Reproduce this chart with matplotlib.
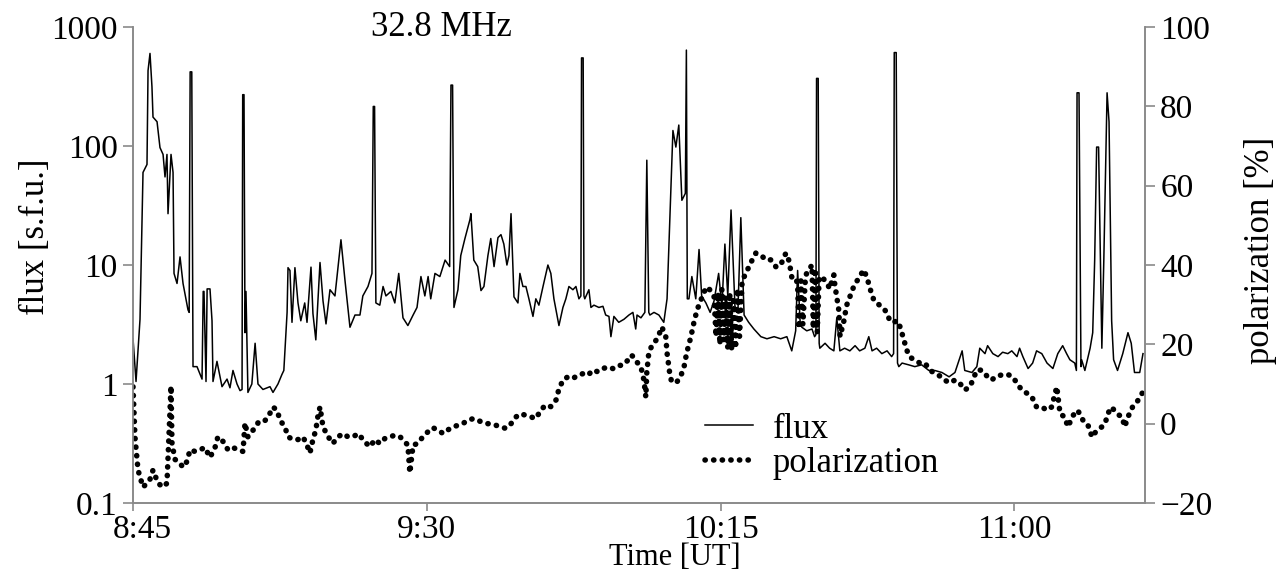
import numpy as np
import matplotlib
matplotlib.use('Agg')
import matplotlib.pyplot as plt
import matplotlib.transforms as mtransforms
from matplotlib.lines import Line2D

plt.rcParams['font.family'] = ['Liberation Serif', 'DejaVu Serif']

# time in minutes after 8:45 UT
flux_t = [0.0, 0.46, 1.07, 1.53, 2.14, 2.3, 2.6, 2.9, 3.06, 3.68, 4.13, 4.6, 4.9, 5.2, 5.36, 5.82,
          6.13, 6.28, 6.74, 7.2, 7.66, 8.42, 8.6, 8.75, 9.0, 9.19, 9.8, 10.57, 10.75, 10.87, 11.18,
          11.35, 11.79, 12.1, 12.25, 12.86, 13.63, 14.4, 14.85, 15.31, 15.93, 16.39, 16.7, 16.8,
          17.0, 17.15, 17.3, 17.6, 18.2, 18.7, 19.14, 19.9, 20.98, 21.44, 22.2, 22.8, 23.1, 23.6,
          23.74, 24.04, 24.35, 24.8, 25.27, 25.7, 26.3, 26.65, 27.26, 27.56, 28.0, 28.64, 29.1,
          29.56, 30.17, 30.93, 31.85, 32.47, 33.23, 34.0, 34.76, 35.2, 35.99, 36.6, 36.8, 37.0,
          37.2, 37.8, 38.3, 38.74, 39.5, 40.1, 40.7, 41.35, 42.1, 42.9, 43.5, 44.1, 44.7, 45.2,
          45.6, 46.25, 47.0, 47.8, 48.5, 48.7, 48.95, 49.16, 49.77, 50.2, 50.84, 51.6, 51.76, 52.2,
          52.8, 53.3, 53.75, 54.36, 54.8, 55.3, 55.9, 56.36, 56.8, 57.27, 57.58, 57.9, 58.35,
          58.96, 59.26, 59.72, 60.18, 60.64, 61.26, 61.7, 62.17, 62.8, 63.55, 64.0, 64.47, 65.24,
          65.85, 66.3, 66.77, 67.38, 67.84, 68.3, 68.6, 68.7, 68.95, 69.07, 69.2, 69.83, 70.14,
          70.6, 71.36, 71.98, 72.4, 72.9, 73.2, 73.66, 74.4, 75.2, 75.96, 76.57, 77.0, 77.2, 77.8,
          78.25, 78.4, 78.7, 79.0, 79.17, 79.8, 80.55, 81.3, 81.8, 82.4, 82.7, 83.15, 83.6, 84.07,
          84.4, 84.6, 84.76, 84.9, 85.15, 85.6, 86.2, 86.7, 87.1, 87.75, 88.4, 89.0, 89.7, 90.2,
          90.66, 91.1, 91.6, 92.2, 92.65, 93.1, 93.6, 94.3, 95.1, 96.17, 97.1, 98.2, 99.2, 100.15,
          100.9, 101.5, 101.8, 102.2, 102.45, 103.2, 104.0, 104.4, 104.6, 104.7, 104.95, 105.1,
          105.2, 106.0, 106.7, 107.35, 107.8, 108.27, 109.0, 109.8, 110.6, 111.3, 112.1, 112.7,
          113.2, 113.9, 114.7, 115.5, 116.2, 116.5, 116.6, 116.9, 117.1, 117.3, 117.8, 118.8,
          119.75, 120.8, 121.9, 122.8, 123.9, 125.0, 125.9, 127.0, 127.4, 128.5, 129.25, 129.7,
          130.5, 130.9, 131.7, 132.5, 133.2, 134.0, 134.6, 135.4, 135.8, 136.3, 137.1, 137.8,
          138.4, 139.2, 140.0, 140.9, 141.65, 142.4, 143.0, 143.5, 144.25, 144.5, 144.6, 144.9,
          145.2, 145.3, 145.8, 146.6, 147.0, 147.3, 147.6, 147.9, 148.4, 148.7, 149.2, 149.5,
          149.9, 150.2, 150.8, 151.6, 152.4, 152.9, 153.4, 154.2, 154.7]
flux_v = [2.4, 1.05, 3.5, 60, 70, 430, 600, 315, 175, 160, 97, 85, 55, 85, 27, 85,
          60, 8.5, 7.0, 11.7, 7.0, 4.2, 4.0, 420, 420, 1.4, 1.4, 1.1, 6.0, 6.0, 1.05,
          6.3, 6.3, 3.4, 1.05, 1.55, 0.95, 1.1, 0.93, 1.3, 1.0, 0.88, 0.9, 270,
          270, 2.7, 6.0, 0.85, 1.0, 2.2, 1.0, 0.9, 0.95, 0.85, 1.0, 1.2, 1.3, 4.0,
          9.5, 9.0, 3.3, 9.5, 4.8, 3.4, 4.8, 3.3, 9.6, 3.9, 2.35, 10.5, 5.0,
          3.2, 6.2, 5.5, 16.3, 7.4, 3.0, 3.8, 3.8, 5.5, 6.6, 8.5, 215, 215,
          4.8, 4.6, 6.6, 5.5, 6.0, 4.8, 8.5, 3.6, 3.1, 3.8, 4.4, 8.0, 5.5, 8.0,
          5.2, 8.5, 8.0, 11.0, 9.7, 325, 325, 4.4, 6.2, 12, 16.7, 24, 27, 11,
          9.7, 6.1, 6.6, 12, 16.7, 9.7, 17, 18, 15, 10, 12, 27, 5.4,
          4.8, 8.5, 6.6, 6.6, 5.2, 3.7, 5.2, 4.6, 6.6, 10, 8.5, 5.2, 3.1,
          4.4, 5.2, 6.6, 6.2, 6.6, 5.2, 5.5, 550, 550, 5.5, 5.2, 6.2, 4.4,
          4.6, 4.4, 4.5, 3.8, 3.7, 2.5, 3.7, 3.3, 3.5, 3.8, 4.0, 2.9, 3.8, 3.6,
          3.9, 4.0, 76, 4.0, 3.8, 4.0, 3.8, 3.3, 5.2, 45, 135, 98, 150, 35,
          38, 40, 640, 5.2, 5.2, 8.0, 5.2, 13.5, 5.5, 4.8, 4.0, 5.0, 8.5, 4.5,
          15, 5.5, 29, 4.5, 4.0, 25, 3.8, 3.3, 2.9, 2.5, 2.4, 2.5, 2.4, 2.5,
          1.9, 2.8, 9.0, 3.2, 3.0, 2.8, 2.9, 2.5, 2.6, 370, 370, 2.2,
          2.0, 2.2, 2.0, 1.9, 3.6, 1.9, 2.0, 1.9, 2.1, 1.9, 2.0, 2.5,
          1.9, 2.0, 1.8, 1.9, 1.7, 1.8, 610, 610, 1.5, 1.4, 1.5, 1.45,
          1.4, 1.45, 1.3, 1.3, 1.25, 1.15, 1.25, 1.9, 1.3, 1.25, 1.4, 2.0,
          1.8, 2.1, 1.8, 1.7, 1.85, 1.8, 1.9, 1.7, 2.0, 1.7, 1.35, 1.5,
          1.9, 1.8, 1.5, 1.35, 1.8, 2.1, 1.8, 1.6, 1.5, 1.3, 280, 280,
          1.4, 1.6, 1.3, 2.0, 2.7, 11, 98, 98, 2.0, 11, 280, 160,
          3.4, 1.6, 1.3, 1.8, 2.7, 2.2, 1.25, 1.25, 1.8]

pol_t = [0.0, 0.3, 0.77, 1.53, 2.14, 2.6, 3.06, 3.83, 4.6, 5.2, 5.5, 5.82, 5.97, 6.43, 7.2, 7.66,
         8.27, 8.73, 9.5, 10.26, 11.0, 11.8, 12.56, 13.0, 13.8, 14.55, 15.3, 16.1, 16.85, 17.15,
         17.6, 18.4, 19.14, 19.9, 20.7, 21.44, 22.05, 22.5, 23.3, 23.74, 24.5, 25.27, 26.0, 26.5,
         27.1, 27.56, 28.0, 28.3, 28.64, 29.1, 29.9, 30.6, 31.4, 32.2, 32.9, 33.7, 34.5, 35.5,
         36.3, 37.06, 37.8, 38.6, 39.4, 40.1, 40.9, 41.65, 42.1, 42.4, 42.9, 43.6, 44.4, 45.2,
         45.9, 46.7, 47.5, 48.2, 49.0, 49.8, 50.5, 51.3, 52.2, 53.3, 54.06, 54.8, 55.6, 56.36,
         57.1, 57.9, 58.65, 59.4, 60.2, 60.95, 61.7, 62.5, 63.2, 64.0, 64.8, 65.2, 65.85, 66.6,
         67.4, 68.1, 68.9, 69.7, 70.4, 71.2, 72.0, 72.7, 73.5, 74.3, 75.0, 75.8, 76.3, 76.7,
         77.2, 77.8, 78.25, 78.55, 78.7, 79.0, 79.5, 80.1, 80.55, 81.0, 81.6, 81.8, 82.2, 82.5,
         83.3, 83.9, 84.4, 84.8, 85.45, 85.9, 86.4, 87.0, 87.4, 87.9, 88.5, 89.0, 89.3, 89.6,
         89.9, 90.2, 90.5, 90.8, 91.1, 91.4, 91.7, 92.0, 92.3, 92.6, 92.9, 93.3, 93.9, 94.6,
         95.4, 96.2, 96.9, 97.7, 98.5, 99.2, 100.0, 100.5, 100.9, 101.5, 101.8, 102.0, 102.3,
         102.6, 103.0, 103.2, 103.6, 104.0, 104.2, 104.5, 104.8, 105.1, 105.5, 106.3, 106.7,
         107.35, 107.5, 108.1, 108.3, 108.9, 109.3, 109.8, 110.4, 110.9, 111.3, 111.9, 112.4,
         112.9, 113.5, 113.9, 114.4, 115.0, 115.5, 115.9, 116.5, 117.0, 117.5, 118.1, 118.5,
         119.0, 119.75, 120.5, 121.3, 122.05, 122.8, 123.6, 124.3, 125.1, 125.9, 126.6, 127.4,
         128.2, 129.25, 130.0, 130.8, 131.5, 132.3, 133.1, 133.8, 134.6, 135.4, 136.1, 136.9,
         137.7, 138.4, 139.2, 140.0, 140.7, 141.5, 142.0, 142.7, 143.2, 144.0, 144.7, 145.5,
         146.2, 146.9, 147.6, 148.4, 148.9, 149.3, 149.9, 150.7, 151.5, 151.9, 152.4, 153.1,
         153.7, 154.2, 154.7]
pol_v = [9.3, -3.4, -11.7, -16, -15, -14, -11.7, -15, -16, -15, -3.4, 9.5, -5, -9, -10, -11,
         -9.5, -6.6, -7, -6.6, -6, -8.5, -6, -3.3, -4.5, -6.6, -6, -6.6, -7, 0.2,
         -3.3, -1.6, 0.2, 0.2, 1.7, 4.2, 3.4, 1, -1, -3.3, -4, -4, -3.3, -4.8,
         -7.4, -4, -1.6, 1.7, 4.2, -0.8, -3.3, -5, -3.3, -2.5, -3.3, -3.3, -2.5, -4.6,
         -5.8, -4, -5, -3.7, -3.3, -2.9, -3.3, -4.6, -5.4, -12.4, -5.4, -5, -3.3, -2,
         -1, -1.6, -2.5, -1.6, -0.8, -0.4, 0, 0.9, 1.3, 0.5, 0, 0, -0.4, -0.8,
         -1.2, 0, 1.7, 2.5, 2.1, 1.7, 1.3, 3.5, 4.7, 4.3, 6, 8.5, 11, 11.8,
         11.4, 12.2, 12.6, 12.2, 13.5, 13.1, 13.9, 14.3, 13.9, 14.7, 14.7, 16, 17.3, 16.8,
         15.5, 14.3, 11, 6.7, 13, 17.8, 19.8, 21, 22.4, 24.4, 22, 17.8, 12.8, 10.5,
         10.5, 12, 14.3, 17.8, 21.9, 25.4, 28.7, 31.2, 33, 34.5, 33.5, 32, 22, 33,
         20, 34, 21, 32, 19, 33, 18.6, 31, 19, 34, 22, 36, 38, 40.5,
         43, 42.5, 41.3, 41.3, 39.5, 40, 43, 41, 37, 37, 35, 24, 36,
         25, 37, 38, 39, 40, 24, 39, 23, 37, 37, 35.5, 34,
         37.5, 35, 28.7, 22, 26, 29.8, 32, 34.6, 36, 37, 38.8, 37,
         34, 31, 30.5, 29.8, 29, 27.9, 26, 25.5, 26, 24.4, 21, 18.6,
         16.8, 16, 15.3, 15.3, 13.5, 12.7, 12, 11, 10.3, 11, 10.3, 8.5,
         9.3, 13.5, 13.5, 12, 11, 12, 12.3, 12.5, 12, 10.3, 8.5, 7.7,
         6.7, 4.2, 4.2, 3.4, 4.2, 9.3, 2.5, 1.7, -0.8, 2.1, 3.4, 0.9,
         0, -3.4, -1.7, -0.8, 0, 2.5, 4.2, 2.5, 1.7, -0.8, 1.7, 4.2,
         5.2, 6.7, 8]

tick_pos = [0, 45, 90, 135]
tick_labels = ['8:45', '9:30', '10:15', '11:00']

fs = 24
dot_style = (0, (0.05, 1.5))

fig = plt.figure(figsize=(12.84, 5.70), dpi=100)
ax = fig.add_axes([0.1036, 0.1175, 0.7881, 0.8351])
ax2 = ax.twinx()

ax.plot(flux_t, flux_v, color='black', lw=1.1)
ax.set_yscale('log')
ax.set_ylim(0.1, 1000)
ax.set_xlim(0, 155)
ax2.plot(pol_t, pol_v, color='black', lw=4, linestyle=dot_style,
         dash_capstyle='round')
ax2.set_ylim(-20, 100)

axcol = '#8a8a8a'
for a in (ax, ax2):
    a.spines['top'].set_visible(False)
    for s in ('left', 'right', 'bottom'):
        a.spines[s].set_color(axcol)
        a.spines[s].set_linewidth(1.2)
    a.tick_params(colors=axcol, labelcolor='black', labelsize=fs, length=7, width=1.2)

ax.set_yticks([0.1, 1, 10, 100, 1000])
ax.set_yticklabels(['0.1', '1', '10', '100', '1000'])
ax.yaxis.set_minor_locator(matplotlib.ticker.NullLocator())
ax.tick_params(axis='y', pad=4)
ax2.set_yticks([-20, 0, 20, 40, 60, 80, 100])
ax2.tick_params(axis='y', pad=4)
ax.set_xticks(tick_pos)
ax.set_xticklabels(tick_labels)
ax.tick_params(axis='x', pad=2, length=6)
# first time label sits a little right of its tick, as in the original
first = ax.get_xticklabels()[0]
first.set_transform(first.get_transform() +
                    mtransforms.ScaledTranslation(0.09, 0, fig.dpi_scale_trans))

ax.set_ylabel('flux [s.f.u.]', fontsize=25)
ax.yaxis.set_label_coords(-0.080, 0.56)
ax2.set_ylabel('polarization [%]', fontsize=25)
ax2.yaxis.set_label_coords(1.098, 0.53)
ax.set_xlabel('Time [UT]', fontsize=22)
ax.xaxis.set_label_coords(0.535, -0.0845)

ax.text(0.305, 1.0, '32.8 MHz', transform=ax.transAxes, fontsize=25,
        ha='center', va='center')

handles = [Line2D([], [], color='black', lw=1.1),
           Line2D([], [], color='black', lw=4, linestyle=dot_style,
                  dash_capstyle='round')]
ax2.legend(handles, ['flux', 'polarization'], loc='upper left',
           bbox_to_anchor=(0.565, 0.19), frameon=False, fontsize=25,
           handlelength=1.4, handletextpad=0.55, labelspacing=0.05,
           borderaxespad=0, borderpad=0)

fig.savefig('out.png', dpi=100)
